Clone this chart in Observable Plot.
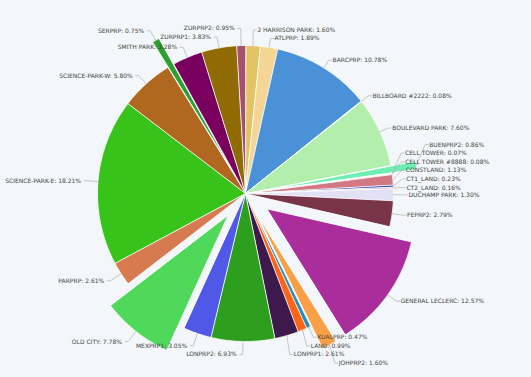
<!DOCTYPE html>
<html>
<head>
<meta charset="utf-8">
<script src="https://cdn.jsdelivr.net/npm/d3@7"></script>
<script src="https://cdn.jsdelivr.net/npm/@observablehq/plot@0.6"></script>
<style>
  html, body { margin: 0; padding: 0; background: #f3f6fa; }
  #chart svg { display: block; }
</style>
</head>
<body>
<div id="chart"></div>
<script>
// ---- data ----
const names = ["2 HARRISON PARK","ATLPRP","BARCPRP","BILLBOARD #2222","BOULEVARD PARK","BUENPRP2","CELL TOWER","CELL TOWER #8888","CONSTLAND","CT1_LAND","CT2_LAND","DUCHAMP PARK","FEPRP2","GENERAL LECLERC","JOHPRP2","KUALPRP","LAND","LONPRP1","LONPRP2","MEXPRP1","OLD CITY","PARPRP","SCIENCE-PARK-E","SCIENCE-PARK-W","SERPRP","SMITH PARK","ZURPRP1","ZURPRP2"];
const shares = [1.60,1.89,10.78,0.08,7.60,0.86,0.07,0.08,1.13,0.23,0.16,1.30,2.79,12.57,1.60,0.47,0.99,2.61,6.93,3.05,7.78,2.61,18.21,5.80,0.75,3.28,3.83,0.95];
const pulls = [0,0,0,0,0,0.17,0,0,0,0,0,0,0,0.18,0.17,0,0,0,0,0,0.19,0,0,0,0.2,0,0,0];
const sliceColors = ["#e2c465","#f4d594","#4b91d8","#d4e8f4","#b2eeac","#6eeeb2","#c8a8d8","#e8e0a0","#d27882","#3c4fb8","#d8a2d2","#e2e0f4","#783448","#aa2d9c","#f7a046","#288cba","#ff6414","#3e1a4c","#2d9e1e","#5058e8","#50d85a","#d87a50","#37c319","#b06820","#2da032","#7a005f","#906a02","#a65070"];

// ---- layout ----
const W = 531, H = 377, CX = 245, CY = 193, R = 148;
const total = d3.sum(shares);
let acc = 0;
const slices = names.map((name, i) => {
  const a0 = acc / total * 2 * Math.PI;
  acc += shares[i];
  const a1 = acc / total * 2 * Math.PI;
  return {name, i, value: shares[i], color: sliceColors[i], pull: pulls[i], a0, a1, mid: (a0 + a1) / 2};
});

const polys = slices.flatMap(s => {
  const ox = s.pull * Math.sin(s.mid), oy = s.pull * Math.cos(s.mid);
  const n = Math.max(2, Math.ceil((s.a1 - s.a0) / (Math.PI / 360)));
  const pts = [{name: s.name, color: s.color, x: ox, y: oy}];
  for (let k = 0; k <= n; k++) {
    const a = s.a0 + (s.a1 - s.a0) * k / n;
    pts.push({name: s.name, color: s.color, x: ox + Math.sin(a), y: oy + Math.cos(a)});
  }
  return pts;
});

const px = 1 / R;
const LH = 8.6 * px, HOOK = 3 * px, TOL = 0.5 * px;
const ctx = document.createElement("canvas").getContext("2d");
ctx.font = "6px 'DejaVu Sans'";
const labels = slices.map(s => {
  const ux = Math.sin(s.mid), uy = Math.cos(s.mid);
  const right = ux >= 0;
  const ro = 1 + s.pull;
  const d = ((uy < 0 ? 13 : 11) - (right ? 2 : 0)) * px;
  const gap = (right ? 1 : 3) * px;
  const text = `${s.name}: ${s.value.toFixed(2)}%`;
  const w = ctx.measureText(text).width * px;
  return {name: s.name, text, w, right, top: uy >= 0, gap,
          px: ux * ro, py: uy * ro, qx: ux * (ro + d), y: uy * (ro + d)};
});
for (const right of [true, false]) for (const top of [true, false]) {
  const grp = labels.filter(l => l.right === right && l.top === top)
    .sort((a, b) => top ? a.y - b.y : b.y - a.y);
  const placed = [];
  for (const l of grp) {
    const x0 = right ? l.qx + HOOK + l.gap : l.qx - HOOK - l.gap - l.w;
    const x1 = x0 + l.w;
    l.x0 = x0; l.x1 = x1;
    let moved = true;
    while (moved) {
      moved = false;
      for (const p of placed) {
        const ov = Math.min(x1, p.x1) - Math.max(x0, p.x0);
        if (ov > TOL && Math.abs(l.y - p.y) < LH - 1e-9) {
          l.y = top ? p.y + LH : p.y - LH;
          moved = true;
        }
      }
    }
    placed.push(l);
  }
}
const leaders = labels.flatMap(l => [
  {name: l.name, x: l.px, y: l.py},
  {name: l.name, x: l.qx, y: l.y},
  {name: l.name, x: l.qx + (l.right ? HOOK : -HOOK), y: l.y}
]);
const textPos = labels.map(l => ({...l, tx: l.qx + (l.right ? 1 : -1) * (HOOK + l.gap)}));

const chart = Plot.plot({
  width: W, height: H,
  margin: 0,
  style: {background: "#f3f6fa", fontFamily: "'DejaVu Sans', sans-serif"},
  x: {domain: [-CX / R, (W - CX) / R], range: [0, W], axis: null},
  y: {domain: [-(H - CY) / R, CY / R], range: [H, 0], axis: null},
  color: {type: "identity"},
  marks: [
    Plot.line(polys, {x: "x", y: "y", z: "name", fill: "color", stroke: "#ffffff", strokeWidth: 0.8, curve: "linear-closed"}),
    Plot.line(leaders, {x: "x", y: "y", z: "name", stroke: "#b0b0b0", strokeWidth: 0.7}),
    Plot.text(textPos.filter(d => d.right), {x: "tx", y: "y", text: "text", textAnchor: "start", fontSize: 6, fill: "#444"}),
    Plot.text(textPos.filter(d => !d.right), {x: "tx", y: "y", text: "text", textAnchor: "end", fontSize: 6, fill: "#444"})
  ]
});
document.getElementById("chart").appendChild(chart);
</script>
</body>
</html>
